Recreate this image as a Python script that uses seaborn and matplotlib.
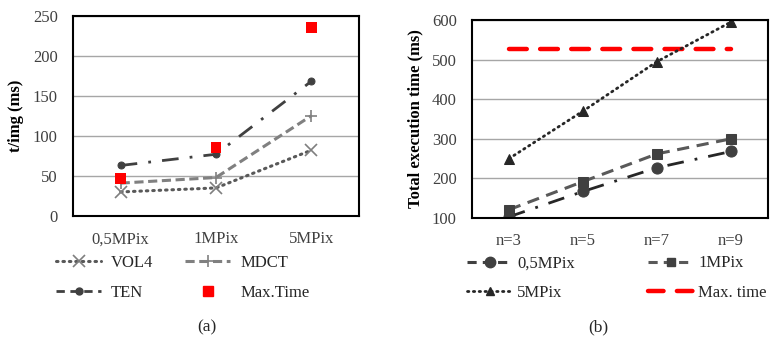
import matplotlib
matplotlib.use("Agg")
import numpy as np
import pandas as pd
import seaborn as sns
import matplotlib.pyplot as plt
from matplotlib.lines import Line2D

# panel (a): time per image
res_labels = ["0,5MPix", "1MPix", "5MPix"]
vol4 = [30, 35, 82]
mdct = [41, 48, 125]
ten = [63, 77, 168]
max_time_a = [47, 85, 235]

# panel (b): total execution time
n_labels = ["n=3", "n=5", "n=7", "n=9"]
mpix05 = [103, 167, 227, 268]
mpix1 = [121, 192, 262, 300]
mpix5 = [250, 370, 495, 595]
max_time_b = [527, 527, 527, 527]

sns.set_theme(style="white")
plt.rcParams["font.family"] = ["Liberation Serif", "DejaVu Serif"]

fig = plt.figure(figsize=(7.71, 3.42), dpi=100)
ax1 = fig.add_axes([73 / 771, 1 - 216 / 342, 286 / 771, 200.5 / 342])
ax2 = fig.add_axes([472 / 771, 1 - 218 / 342, 296 / 771, 198 / 342])

TICK_C = "#404040"


def style_axes(ax, ylim, yticks, n_cat, labels, ylabel):
    ax.set_xlim(0, n_cat)
    ax.set_ylim(*ylim)
    ax.set_yticks(yticks)
    ax.set_xticks(np.arange(n_cat) + 0.5)
    ax.set_xticklabels(labels)
    ax.tick_params(axis="y", length=0, labelsize=12, colors=TICK_C, pad=11)
    ax.tick_params(axis="x", length=0, labelsize=12, colors=TICK_C, pad=11)
    ax.yaxis.grid(True, color="#a6a6a6", lw=1)
    ax.set_axisbelow(True)
    for sp in ax.spines.values():
        sp.set_color("black")
        sp.set_linewidth(1.5)
        sp.set_visible(True)
    ax.set_xlabel("")
    ax.set_ylabel(ylabel, fontsize=12, fontweight="bold", color="black", labelpad=6)


# ---- panel (a)
xa = np.arange(3) + 0.5
df_a = pd.DataFrame({"x": xa, "VOL4": vol4, "MDCT": mdct, "TEN": ten, "Max": max_time_a})

sns.lineplot(data=df_a, x="x", y="VOL4", ax=ax1, color="#595959", lw=2.2,
             linestyle=(0, (0.5, 1.6)), dash_capstyle="round", marker="x", markersize=9,
             markeredgewidth=1.2, markeredgecolor="#7f7f7f")
sns.lineplot(data=df_a, x="x", y="MDCT", ax=ax1, color="#808080", lw=2.2,
             linestyle=(0, (3, 1.5)), marker="+", markersize=9,
             markeredgewidth=1.2, markeredgecolor="#808080")
sns.lineplot(data=df_a, x="x", y="TEN", ax=ax1, color="#404040", lw=2.0,
             linestyle=(0, (6, 4, 1, 4)), marker="o", markersize=5,
             markeredgecolor="#404040")
sns.scatterplot(data=df_a, x="x", y="Max", ax=ax1, color="red", marker="s", s=60,
                edgecolor="none", zorder=5)
style_axes(ax1, (0, 250), [0, 50, 100, 150, 200, 250], 3, res_labels, "t/img (ms)")

h_vol = Line2D([], [], color="#595959", lw=2.2, linestyle=(0, (0.5, 1.6)), dash_capstyle="round",
               marker="x", markersize=8, markeredgecolor="#7f7f7f", markeredgewidth=1.2)
h_mdct = Line2D([], [], color="#808080", lw=2.2, linestyle=(0, (3, 1.5)), marker="+",
                markersize=9, markeredgewidth=1.2)
h_ten = Line2D([], [], color="#404040", lw=2.0, linestyle=(0, (3, 2)), marker="o", markersize=5)
h_max = Line2D([], [], color="red", lw=0, marker="s", markersize=7.5)
# ncol=2 fills column by column -> order so rows read VOL4, MDCT / TEN, Max.Time
leg_a = ax1.legend([h_vol, h_ten, h_mdct, h_max], ["VOL4", "TEN", "MDCT", "Max.Time"],
                   ncol=2, loc="upper left", bbox_to_anchor=(-0.1, -0.135), frameon=False,
                   handlelength=2.7, columnspacing=1.9, fontsize=12, labelspacing=0.85,
                   handletextpad=0.6, borderpad=0.2)
for t in leg_a.get_texts():
    t.set_color("#262626")

# ---- panel (b)
xb = np.arange(4) + 0.5
df_b = pd.DataFrame({"x": xb, "p05": mpix05, "p1": mpix1, "p5": mpix5, "mx": max_time_b})

sns.lineplot(data=df_b, x="x", y="mx", ax=ax2, color="red", lw=3.2,
             linestyle=(0, (4, 3)), dash_capstyle="round")
sns.lineplot(data=df_b, x="x", y="p5", ax=ax2, color="#262626", lw=2.0,
             linestyle=(0, (0.5, 1.6)), dash_capstyle="round", marker="^", markersize=6.5,
             markeredgecolor="#262626")
sns.lineplot(data=df_b, x="x", y="p1", ax=ax2, color="#595959", lw=2.2,
             linestyle=(0, (4, 2.5)), marker="s", markersize=6.5,
             markeredgecolor="#404040", markerfacecolor="#404040")
sns.lineplot(data=df_b, x="x", y="p05", ax=ax2, color="#262626", lw=2.0,
             linestyle=(0, (6, 4, 1, 4)), marker="o", markersize=8,
             markeredgecolor="#404040", markerfacecolor="#404040")
style_axes(ax2, (100, 600), [100, 200, 300, 400, 500, 600], 4, n_labels,
           "Total execution time (ms)")

h_05 = Line2D([], [], color="#404040", lw=2.2, linestyle=(0, (3, 2)), marker="o", markersize=7.5)
h_1 = Line2D([], [], color="#595959", lw=2.2, linestyle=(0, (3, 2)), marker="s", markersize=6,
             markerfacecolor="#404040", markeredgecolor="#404040")
h_5 = Line2D([], [], color="#262626", lw=2.0, linestyle=(0, (0.5, 1.6)), dash_capstyle="round",
             marker="^", markersize=6)
h_mx = Line2D([], [], color="red", lw=3.2, linestyle=(0, (3.5, 3)), dash_capstyle="round")
leg_b = ax2.legend([h_05, h_5, h_1, h_mx], ["0,5MPix", "5MPix", "1MPix", "Max. time"],
                   ncol=2, loc="upper left", bbox_to_anchor=(-0.055, -0.13), frameon=False,
                   handlelength=2.7, columnspacing=4.4, fontsize=12, labelspacing=0.8,
                   handletextpad=0.3, borderpad=0.2)
for t in leg_b.get_texts():
    t.set_color("#262626")

fig.text(207 / 771, 1 - 327 / 342, "(a)", ha="center", va="center", fontsize=12.5, color="#262626")
fig.text(598 / 771, 1 - 327 / 342, "(b)", ha="center", va="center", fontsize=12.5, color="#262626")

fig.savefig("out.png", dpi=100)
